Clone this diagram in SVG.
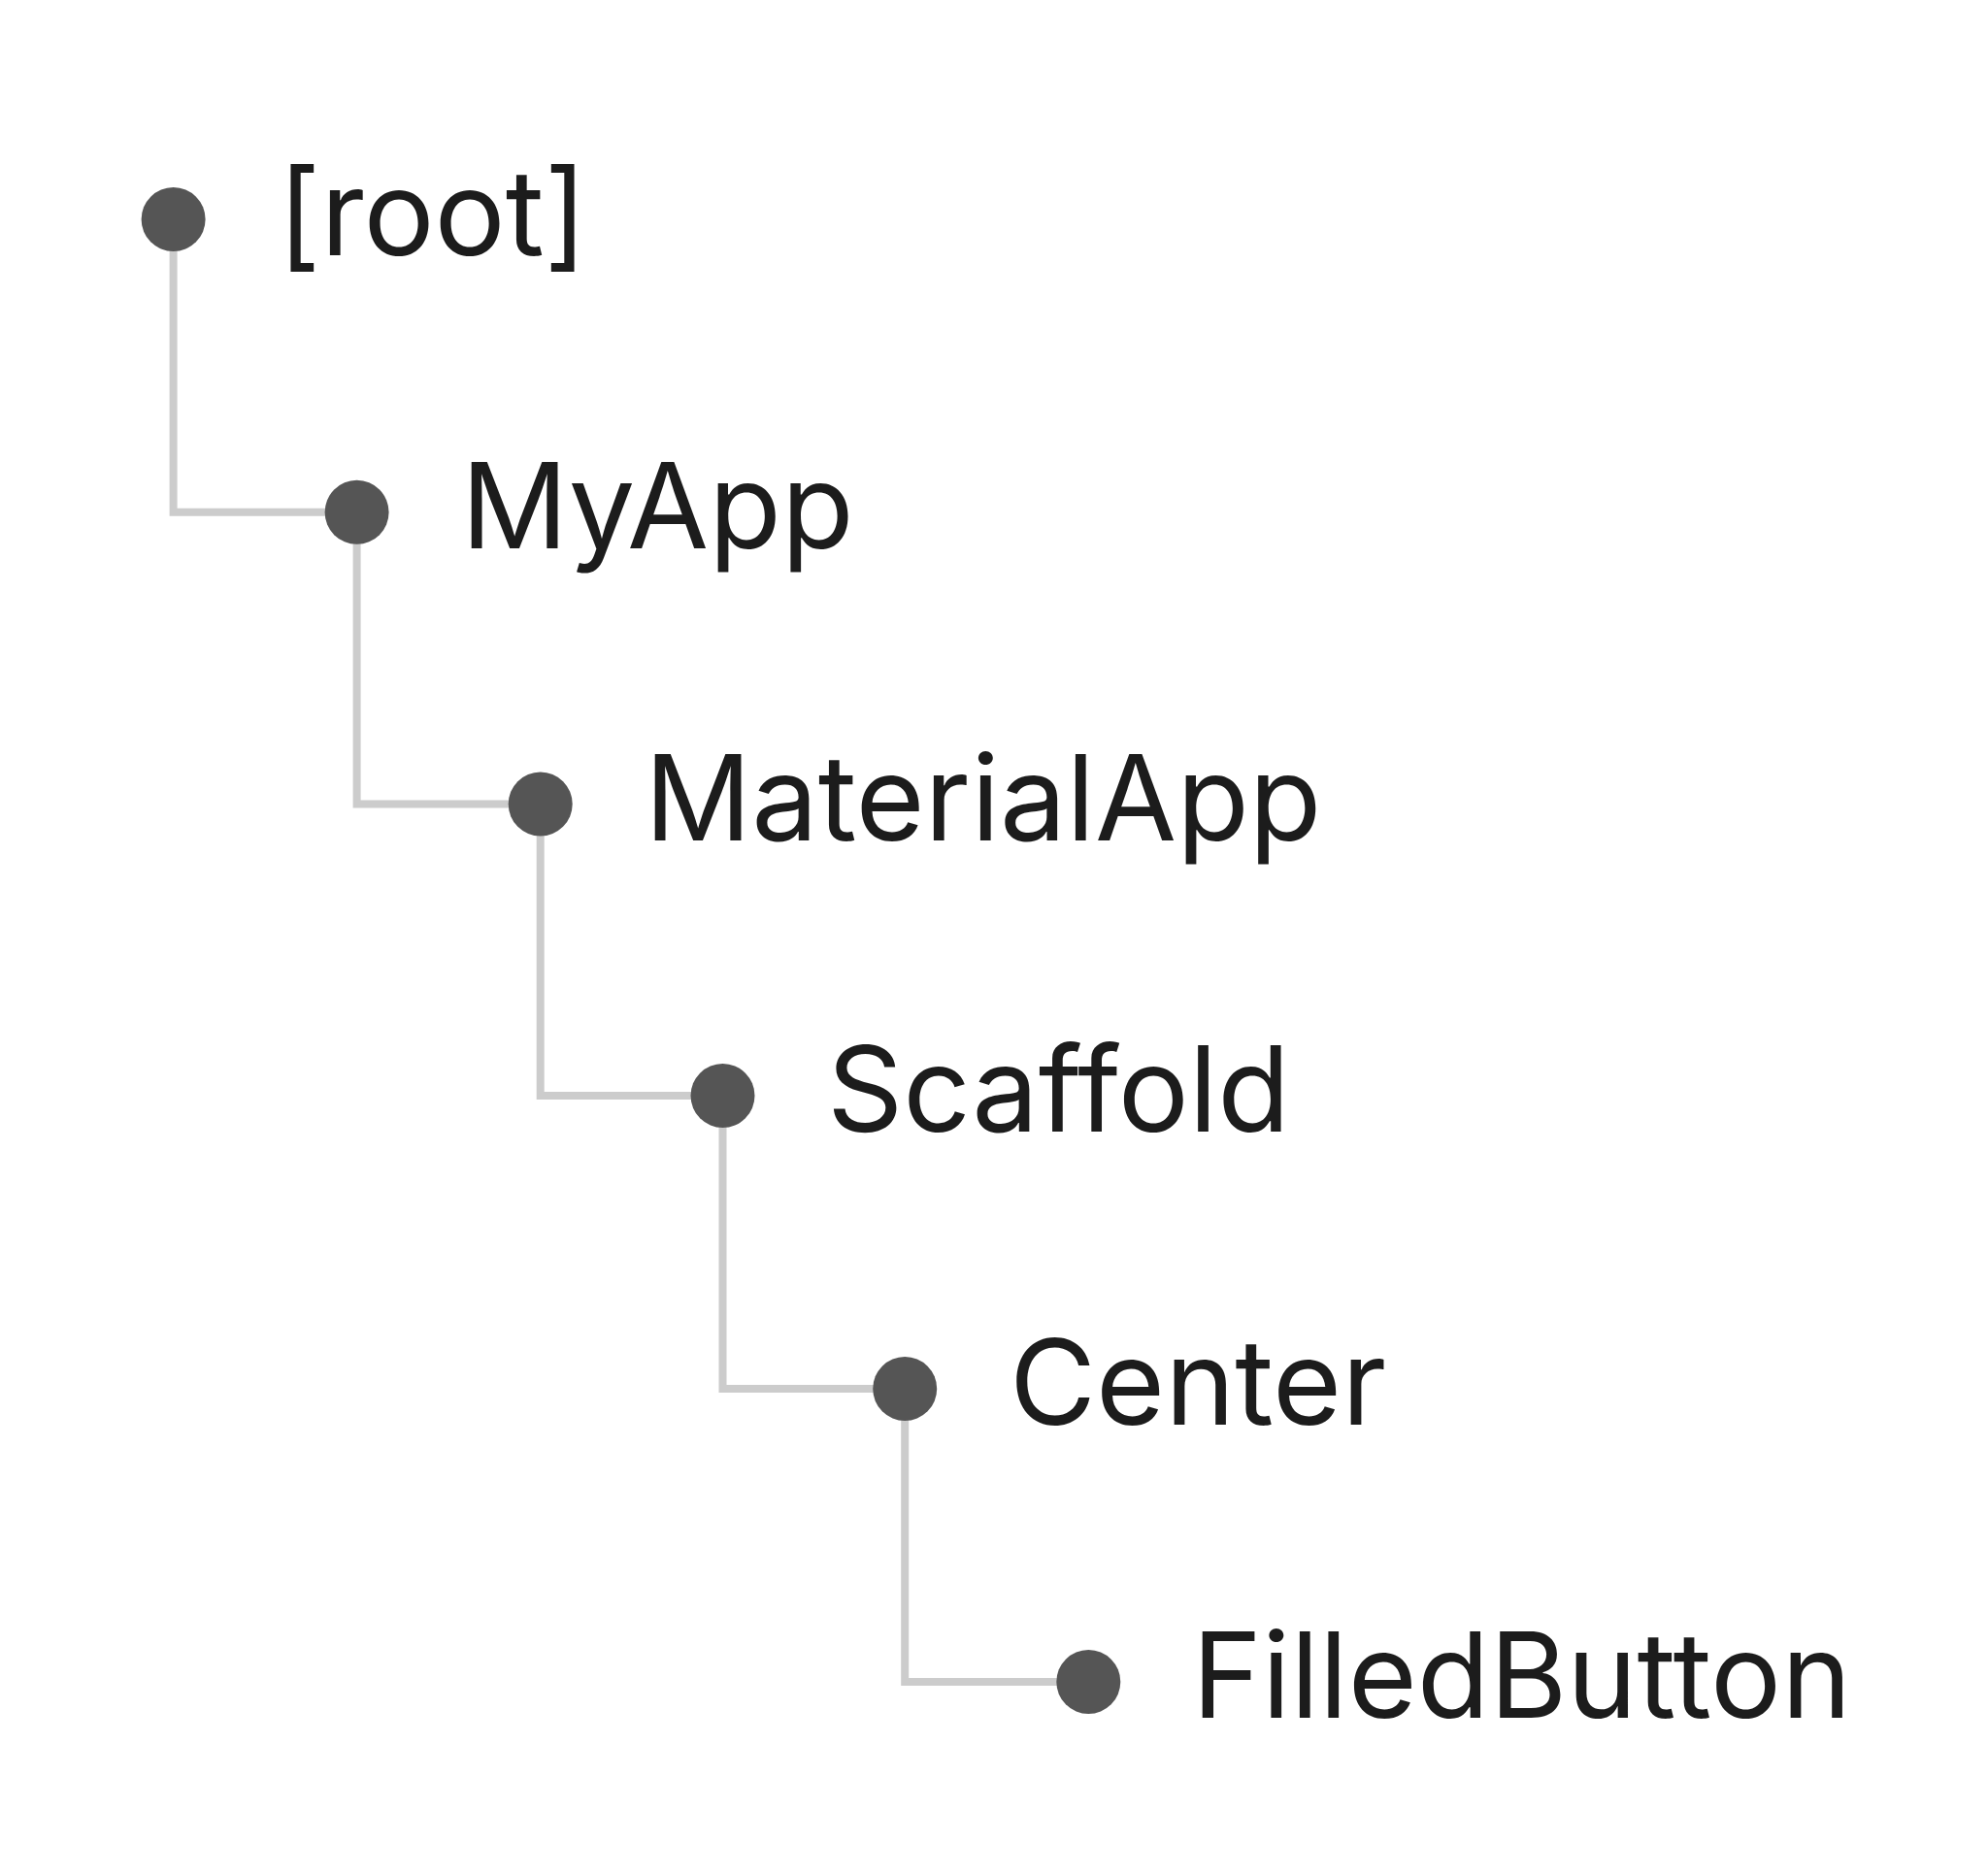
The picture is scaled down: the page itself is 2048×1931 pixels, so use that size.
<svg xmlns="http://www.w3.org/2000/svg" width="2048" height="1931" viewBox="0 0 2048 1931">
<style>
.c{fill:#555555}
.t{font-family:Inter,"Liberation Sans",sans-serif;font-size:122px;fill:#1c1c1c}
.l{fill:none;stroke:#cccccc;stroke-width:8}
</style>
<rect width="2048" height="1931" fill="#ffffff"/>
<g id="connectors">
<path class="l" d="M178.6 226V527.8H367.6"/>
<path class="l" d="M367.6 527.8V828.5H556.7"/>
<path class="l" d="M556.7 828.5V1129H744.5"/>
<path class="l" d="M744.5 1129V1431H932.2"/>
<path class="l" d="M932.2 1431V1733H1121.3"/>
</g>
<g id="root"><circle class="c" cx="178.6" cy="226" r="33"/><text class="t" x="286" y="263">[root]</text></g>
<g id="myapp"><circle class="c" cx="367.6" cy="527.8" r="33"/><text class="t" x="475" y="565">MyApp</text></g>
<g id="materialapp"><circle class="c" cx="556.7" cy="828.5" r="33"/><text class="t" x="664" y="866">MaterialApp</text></g>
<g id="scaffold"><circle class="c" cx="744.5" cy="1129" r="33"/><text class="t" x="852" y="1166">Scaffold</text></g>
<g id="center"><circle class="c" cx="932.2" cy="1431" r="33"/><text class="t" x="1040" y="1468">Center</text></g>
<g id="filledbutton"><circle class="c" cx="1121.3" cy="1733" r="33"/><text class="t" x="1228" y="1770">FilledButton</text></g>
</svg>
